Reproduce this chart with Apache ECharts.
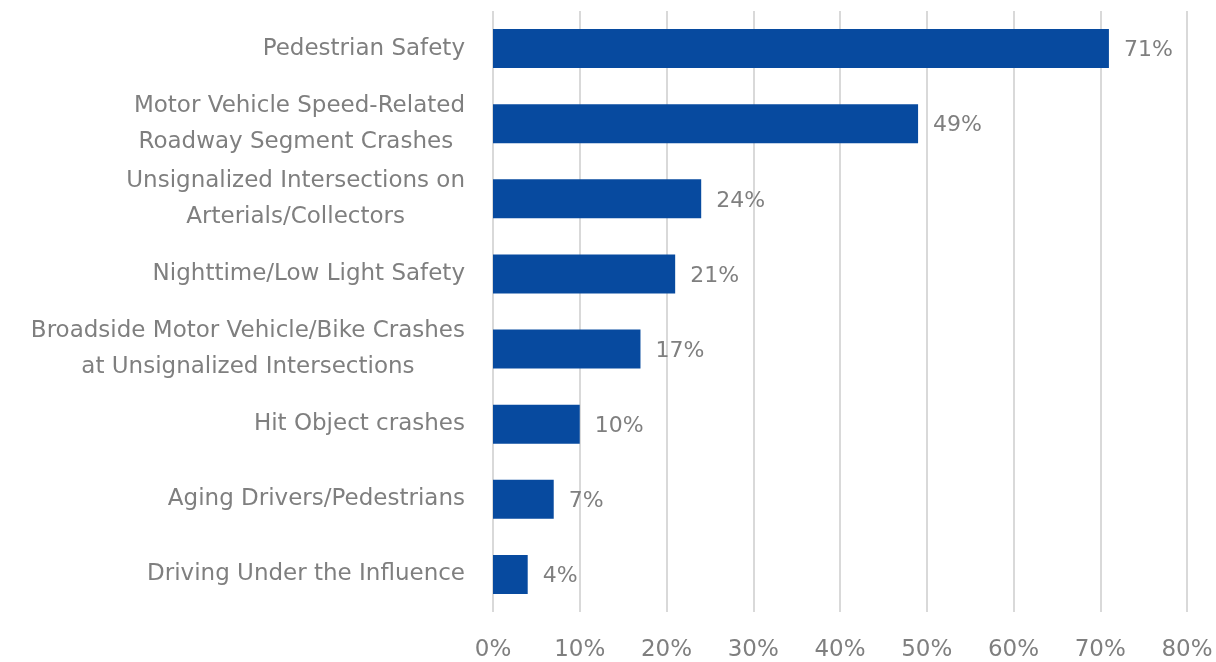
<!DOCTYPE html>
<html>
<head>
<meta charset="utf-8">
<script src="https://cdn.jsdelivr.net/npm/echarts@6/dist/echarts.min.js"></script>
<style>
html,body{margin:0;padding:0;background:#fff;}
#chart{width:1216px;height:662px;}
</style>
</head>
<body>
<div id="chart"></div>
<script>
const categories = [
  "Pedestrian Safety",
  "Motor Vehicle Speed-Related\nRoadway Segment Crashes ",
  "Unsignalized Intersections on\nArterials/Collectors",
  "Nighttime/Low Light Safety",
  "Broadside Motor Vehicle/Bike Crashes\nat Unsignalized Intersections",
  "Hit Object crashes",
  "Aging Drivers/Pedestrians",
  "Driving Under the Influence"
];
const values = [71, 49, 24, 21, 17, 10, 7, 4];
const xTicks = [0, 10, 20, 30, 40, 50, 60, 70, 80];

const FONT = "'DejaVu Sans', 'Open Sans', sans-serif";
const GRAY = '#7f7f7f';
const FS_CAT = 23;
const FS = 22;

const chart = echarts.init(document.getElementById('chart'), null, {renderer: 'canvas'});
chart.setOption({
  backgroundColor: '#ffffff',
  animation: false,
  grid: {left: 493, right: 29, top: 11, bottom: 49, containLabel: false},
  xAxis: {
    type: 'value',
    min: xTicks[0],
    max: xTicks[xTicks.length - 1],
    interval: 10,
    axisLine: {show: false},
    axisTick: {show: false},
    splitLine: {show: true, lineStyle: {color: '#d9d9d9', width: 2}},
    axisLabel: {
      formatter: v => v + '%',
      color: GRAY, fontFamily: FONT, fontSize: FS_CAT, margin: 27
    }
  },
  yAxis: {
    type: 'category',
    inverse: true,
    data: categories,
    axisLine: {show: false},
    axisTick: {show: false},
    splitLine: {show: false},
    axisLabel: {
      margin: 28,
      color: GRAY, fontFamily: FONT, fontSize: FS_CAT, lineHeight: 36,
      formatter: v => v.split('\n').map(s => '{c|' + s + '}').join('\n'),
      rich: {c: {align: 'center', color: GRAY, fontFamily: FONT, fontSize: FS_CAT, lineHeight: 36}}
    }
  },
  series: [{
    type: 'bar',
    data: values,
    barWidth: '52%',
    itemStyle: {color: '#074a9f'},
    label: {
      show: true, position: 'right', distance: 15, offset: [0, 2],
      formatter: p => p.value + '%',
      color: GRAY, fontFamily: FONT, fontSize: FS
    }
  }]
});
</script>
</body>
</html>
